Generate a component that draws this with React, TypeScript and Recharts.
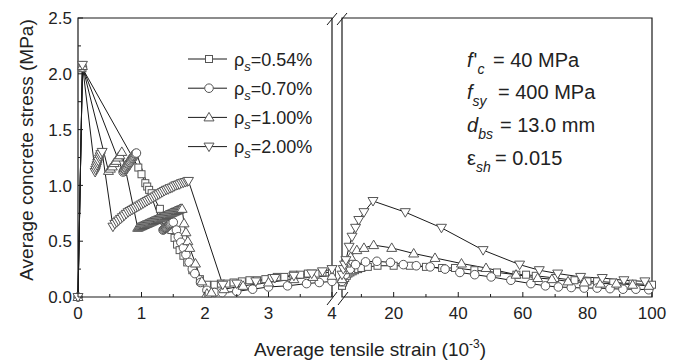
import { Line, LineChart, ReferenceArea, XAxis, YAxis } from "recharts"

// Average concrete stress (MPa) vs average tensile strain (10^-3), [strain, stress]
// left panel: 0..4, right panel: 4..100
const sq054Left: [number, number][] = [
  [0, 0], [0.07, 2.05], [0.95, 1.16], [1.0, 1.1], [1.06, 1.02], [1.09, 0.99], [1.12, 0.96], [1.16, 0.93],
  [1.29, 0.79], [1.38, 0.69], [1.47, 0.6], [1.52, 0.53], [1.56, 0.47], [1.6, 0.42], [1.66, 0.37], [1.72, 0.31],
  [1.8, 0.24], [1.92, 0.16], [2.03, 0.11], [2.15, 0.11], [2.25, 0.12], [2.34, 0.12], [2.45, 0.13], [2.58, 0.14],
  [2.7, 0.15], [2.82, 0.15], [2.95, 0.16], [3.05, 0.17], [3.13, 0.18], [3.25, 0.18], [3.39, 0.2], [3.5, 0.2],
  [3.62, 0.21], [3.75, 0.21], [3.85, 0.22], [4.0, 0.22],
]
const ci070Left: [number, number][] = [
  [0, 0], [0.07, 2.06], [0.71, 1.12], [0.72, 1.13], [0.73, 1.14], [0.74, 1.145], [0.75, 1.155], [0.76, 1.16],
  [0.77, 1.17], [0.78, 1.18], [0.79, 1.19], [0.8, 1.195], [0.81, 1.205], [0.82, 1.21], [0.83, 1.22], [0.84, 1.23],
  [0.85, 1.24], [0.86, 1.245], [0.87, 1.255], [0.88, 1.26], [0.89, 1.27], [0.9, 1.28], [0.91, 1.285], [0.92, 1.29],
  [1.34, 0.6], [1.35, 0.605], [1.36, 0.61], [1.37, 0.615], [1.38, 0.62], [1.39, 0.625], [1.4, 0.63], [1.41, 0.635],
  [1.42, 0.64], [1.43, 0.645], [1.44, 0.65], [1.45, 0.655], [1.46, 0.66], [1.48, 0.665], [1.5, 0.67],
  [1.55, 0.6], [1.58, 0.54], [1.62, 0.49], [1.66, 0.44], [1.7, 0.38], [1.75, 0.31], [1.8, 0.25], [1.84, 0.21],
  [1.93, 0.13], [2.03, 0.06], [2.15, 0.04], [2.27, 0.04], [2.5, 0.05], [2.75, 0.07], [3.0, 0.09], [3.3, 0.1],
  [3.6, 0.12], [3.8, 0.13], [4.0, 0.14],
]
const tu100Left: [number, number][] = [
  [0, 0], [0.07, 2.07], [0.48, 1.13], [0.51, 1.15], [0.54, 1.17], [0.57, 1.2], [0.6, 1.22], [0.63, 1.25],
  [0.66, 1.27], [0.69, 1.3],
  [0.94, 0.62], [0.96, 0.625], [0.98, 0.63], [1.0, 0.635], [1.02, 0.64], [1.04, 0.645], [1.06, 0.65],
  [1.08, 0.655], [1.1, 0.66], [1.12, 0.665], [1.14, 0.67], [1.16, 0.675], [1.18, 0.68], [1.2, 0.685],
  [1.22, 0.69], [1.24, 0.695], [1.26, 0.7], [1.28, 0.705], [1.3, 0.71], [1.32, 0.715], [1.34, 0.72],
  [1.36, 0.725], [1.38, 0.73], [1.4, 0.735], [1.42, 0.74], [1.44, 0.745], [1.46, 0.75], [1.48, 0.755],
  [1.5, 0.76], [1.52, 0.765], [1.54, 0.77], [1.56, 0.775], [1.58, 0.78], [1.6, 0.785], [1.62, 0.79], [1.64, 0.79],
  [1.67, 0.66], [1.7, 0.58], [1.73, 0.5], [1.76, 0.44], [1.85, 0.3], [1.95, 0.14], [2.03, 0.03], [2.1, 0.04],
  [2.3, 0.07], [2.6, 0.1], [3.0, 0.13], [3.4, 0.16], [3.7, 0.18], [4.0, 0.19],
]
const td200Left: [number, number][] = [
  [0, 0], [0.07, 2.08], [0.27, 1.12], [0.28, 1.14], [0.29, 1.16], [0.3, 1.18], [0.31, 1.2], [0.32, 1.22],
  [0.34, 1.24], [0.35, 1.26], [0.36, 1.28], [0.38, 1.3],
  [0.55, 0.63], [0.58, 0.655], [0.61, 0.67], [0.64, 0.685], [0.67, 0.7], [0.7, 0.715], [0.73, 0.73],
  [0.76, 0.745], [0.79, 0.76], [0.82, 0.77], [0.85, 0.78], [0.88, 0.79], [0.91, 0.8], [0.94, 0.81],
  [0.97, 0.82], [1.0, 0.83], [1.03, 0.84], [1.06, 0.85], [1.09, 0.86], [1.12, 0.87], [1.15, 0.88],
  [1.18, 0.89], [1.21, 0.9], [1.24, 0.91], [1.27, 0.92], [1.3, 0.93], [1.33, 0.94], [1.36, 0.95],
  [1.39, 0.96], [1.42, 0.965], [1.45, 0.975], [1.48, 0.98], [1.51, 0.99], [1.54, 1.0], [1.57, 1.005],
  [1.6, 1.01], [1.63, 1.02], [1.66, 1.025], [1.69, 1.03], [1.72, 1.035], [1.74, 1.04],
  [2.28, 0.11], [2.5, 0.12], [2.8, 0.14], [3.1, 0.17], [3.4, 0.19], [3.68, 0.21], [3.85, 0.23], [4.0, 0.25],
]

const sq054Right: [number, number][] = [
  [4, 0.1], [4.3, 0.13], [4.6, 0.15], [5, 0.17], [5.5, 0.19], [6, 0.21], [6.6, 0.22], [7.3, 0.23], [8, 0.24],
  [9, 0.25], [10, 0.26], [12, 0.27], [15, 0.28], [20, 0.28], [25, 0.28], [30, 0.27], [35, 0.26], [39, 0.26],
  [45, 0.24], [52, 0.22], [58, 0.2], [61, 0.2], [64, 0.19], [70, 0.17], [76, 0.15], [80, 0.14], [83, 0.14],
  [88, 0.13], [94, 0.12], [100, 0.11],
]
const ci070Right: [number, number][] = [
  [4, 0.14], [5, 0.2], [6.5, 0.25], [8.2, 0.29], [11.3, 0.315], [14.8, 0.32], [19, 0.31], [23, 0.29], [27, 0.28],
  [31.3, 0.27], [35.9, 0.25], [40.5, 0.22], [45.1, 0.2], [50.2, 0.18], [56.3, 0.15], [62.5, 0.12], [67, 0.1],
  [71, 0.09], [75, 0.085], [79, 0.08], [83, 0.08], [87, 0.075], [91, 0.07], [95, 0.07], [99, 0.065],
]
const tu100Right: [number, number][] = [
  [4, 0.16], [4.6, 0.24], [5.3, 0.3], [6.7, 0.36], [8.6, 0.42], [10.8, 0.44], [13.8, 0.465], [19.4, 0.44],
  [26.2, 0.39], [32.8, 0.35], [41, 0.3], [48.6, 0.26], [57.9, 0.2], [64.6, 0.17], [69, 0.16], [74, 0.14],
  [79, 0.13], [84, 0.12], [89, 0.12], [94, 0.11], [99, 0.1],
]
const td200Right: [number, number][] = [
  [4, 0.2], [4.4, 0.25], [4.8, 0.29], [5.2, 0.33], [6.2, 0.45], [7.1, 0.54], [8.2, 0.62], [9.2, 0.69],
  [10.8, 0.76], [13.6, 0.86], [23.6, 0.76], [34.8, 0.62], [47.7, 0.42], [59, 0.29], [65.1, 0.24], [70.8, 0.21],
  [77.9, 0.18], [84.6, 0.17], [91.3, 0.15], [97.8, 0.14],
]

const legendLabels = ["0.54%", "0.70%", "1.00%", "2.00%"]
const markerKinds = ["square", "circle", "up", "down"]
const leftTicks = [0, 0.5, 1, 1.5, 2, 2.5, 3, 3.5, 4]
const rightTicks = [10, 20, 30, 40, 50, 60, 70, 80, 90, 100]
const yTicks = [0, 0.25, 0.5, 0.75, 1, 1.25, 1.5, 1.75, 2, 2.25, 2.5]

const FONT = "'Liberation Sans', Arial, sans-serif"
const LINE = "#1a1a1a"
const MARK = "#555"
const TOP = 18
const BOTTOM = 297
const LEFT = 78

const toPts = (arr: [number, number][]) => arr.map(([x, y]) => ({ x, y }))

const Marker = ({ kind, cx, cy }: { kind: string; cx: number; cy: number }) => {
  if (kind === "square")
    return <rect x={cx - 3.5} y={cy - 3.5} width={7} height={7} fill="#fff" stroke={MARK} />
  if (kind === "circle") return <circle cx={cx} cy={cy} r={4.3} fill="#fff" stroke={MARK} />
  if (kind === "up")
    return <polygon points={`${cx},${cy - 5} ${cx + 5},${cy + 3.5} ${cx - 5},${cy + 3.5}`} fill="#fff" stroke={MARK} />
  return <polygon points={`${cx - 5},${cy - 3.5} ${cx + 5},${cy - 3.5} ${cx},${cy + 5}`} fill="#fff" stroke={MARK} />
}

const dotFor = (kind: string) => (p: any) => {
  if (p.cx == null || p.cy == null) return <g key={p.index} />
  return (
    <g key={p.index}>
      <Marker kind={kind} cx={p.cx} cy={p.cy} />
    </g>
  )
}

const xTickLeft = (p: any) => {
  const v = p.payload.value
  const major = Number.isInteger(v)
  return (
    <g>
      <line x1={p.x} x2={p.x} y1={BOTTOM} y2={BOTTOM - (major ? 5 : 3)} stroke={LINE} />
      {major && (
        <text x={p.x} y={319} textAnchor="middle" fontSize={17} fontFamily={FONT} fill="#222">
          {v}
        </text>
      )}
    </g>
  )
}

const xTickRight = (p: any) => {
  const v = p.payload.value
  const major = v % 20 === 0
  return (
    <g>
      <line x1={p.x} x2={p.x} y1={BOTTOM} y2={BOTTOM - (major ? 5 : 3)} stroke={LINE} />
      {major && (
        <text x={p.x} y={319} textAnchor="middle" fontSize={17} fontFamily={FONT} fill="#222">
          {v}
        </text>
      )}
    </g>
  )
}

const yTick = (p: any) => {
  const v = p.payload.value
  const major = Math.abs(v * 2 - Math.round(v * 2)) < 1e-6
  return (
    <g>
      <line x1={LEFT} x2={LEFT + (major ? 5 : 3)} y1={p.y} y2={p.y} stroke={LINE} />
      {major && (
        <text x={72} y={p.y} dy="0.36em" textAnchor="end" fontSize={17} fontFamily={FONT} fill="#222">
          {v.toFixed(1)}
        </text>
      )}
    </g>
  )
}

const seriesLeft = [sq054Left, ci070Left, tu100Left, td200Left]
const seriesRight = [sq054Right, ci070Right, tu100Right, td200Right]

const Overlay = () => (
  <svg
    width={680}
    height={363}
    style={{ position: "absolute", left: 0, top: 0, pointerEvents: "none" }}
    fontFamily={FONT}
  >
    {/* axis break marks */}
    <rect x={333} y={10} width={8} height={7} fill="#fff" />
    <line x1={327} y1={25} x2={337} y2={13} stroke={LINE} />
    <line x1={337} y1={25} x2={347} y2={13} stroke={LINE} />
    <line x1={327} y1={305} x2={337} y2={292} stroke={LINE} />
    <line x1={338} y1={305} x2={348} y2={292} stroke={LINE} />

    {/* legend */}
    {legendLabels.map((lab, i) => {
      const cy = 59 + i * 29.2
      return (
        <g key={lab}>
          <line x1={188} x2={227} y1={cy} y2={cy} stroke={LINE} />
          <Marker kind={markerKinds[i]} cx={209} cy={cy} />
          <text x={234} y={cy + 6.5} fontSize={18} fill="#222">
            <tspan>ρ</tspan>
            <tspan dy={5} fontSize={13} fontStyle="italic">s</tspan>
            <tspan dy={-5}>={lab}</tspan>
          </text>
        </g>
      )
    })}

    {/* material parameters */}
    <g fontSize={20} fill="#222">
      <text x={467} y={67}>
        <tspan fontStyle="italic">f</tspan>
        <tspan dx={1}>'</tspan>
        <tspan dy={7} fontSize={14} fontStyle="italic">c</tspan>
      </text>
      <text x={493} y={67}>= 40 MPa</text>
      <text x={467} y={99}>
        <tspan fontStyle="italic">f</tspan>
        <tspan dy={7} fontSize={14} fontStyle="italic">sy</tspan>
      </text>
      <text x={498} y={99}>= 400 MPa</text>
      <text x={467} y={132}>
        <tspan fontStyle="italic">d</tspan>
        <tspan dy={7} fontSize={14} fontStyle="italic">bs</tspan>
      </text>
      <text x={500} y={132}>= 13.0 mm</text>
      <text x={467} y={165}>
        <tspan>ε</tspan>
        <tspan dy={7} fontSize={14} fontStyle="italic">sh</tspan>
      </text>
      <text x={495} y={165}>= 0.015</text>
    </g>

    {/* axis titles */}
    <text x={370} y={356} textAnchor="middle" fontSize={19} fill="#222">
      <tspan>Average tensile strain (10</tspan>
      <tspan dy={-8} fontSize={12}>-3</tspan>
      <tspan dy={8}>)</tspan>
    </text>
    <text
      x={33}
      y={150}
      transform="rotate(-90 33 150)"
      textAnchor="middle"
      fontSize={19}
      fill="#222"
    >
      Average concrete stress (MPa)
    </text>
  </svg>
)

export default function App() {
  return (
    <div style={{ position: "absolute", left: 0, top: 0, width: 680, height: 363, background: "#fff" }}>
      <div style={{ position: "absolute", left: 0, top: 0 }}>
        <LineChart width={340} height={363} margin={{ top: TOP, right: 8, left: 0, bottom: 36 }}>
          <XAxis
            type="number"
            dataKey="x"
            domain={[0, 4]}
            ticks={leftTicks}
            interval={0}
            axisLine={false}
            tickLine={false}
            tick={xTickLeft}
            height={30}
          />
          <YAxis
            type="number"
            domain={[0, 2.5]}
            ticks={yTicks}
            interval={0}
            axisLine={false}
            tickLine={false}
            tick={yTick}
            width={78}
          />
          <ReferenceArea x1={0} x2={4} y1={0} y2={2.5} fill="none" stroke={LINE} strokeWidth={1.2} />
          {seriesLeft.map((s, i) => (
            <Line
              key={i}
              data={toPts(s)}
              dataKey="y"
              stroke={LINE}
              strokeWidth={1}
              dot={dotFor(markerKinds[i])}
              activeDot={false}
              isAnimationActive={false}
            />
          ))}
        </LineChart>
      </div>
      <div style={{ position: "absolute", left: 334, top: 0 }}>
        <LineChart width={346} height={363} margin={{ top: TOP, right: 28, left: 8, bottom: 36 }}>
          <XAxis
            type="number"
            dataKey="x"
            domain={[4, 100]}
            ticks={rightTicks}
            interval={0}
            axisLine={false}
            tickLine={false}
            tick={xTickRight}
            height={30}
          />
          <YAxis type="number" domain={[0, 2.5]} hide />
          <ReferenceArea x1={4} x2={100} y1={0} y2={2.5} fill="none" stroke={LINE} strokeWidth={1.2} />
          {seriesRight.map((s, i) => (
            <Line
              key={i}
              data={toPts(s)}
              dataKey="y"
              stroke={LINE}
              strokeWidth={1}
              dot={dotFor(markerKinds[i])}
              activeDot={false}
              isAnimationActive={false}
            />
          ))}
        </LineChart>
      </div>
      <Overlay />
    </div>
  )
}
